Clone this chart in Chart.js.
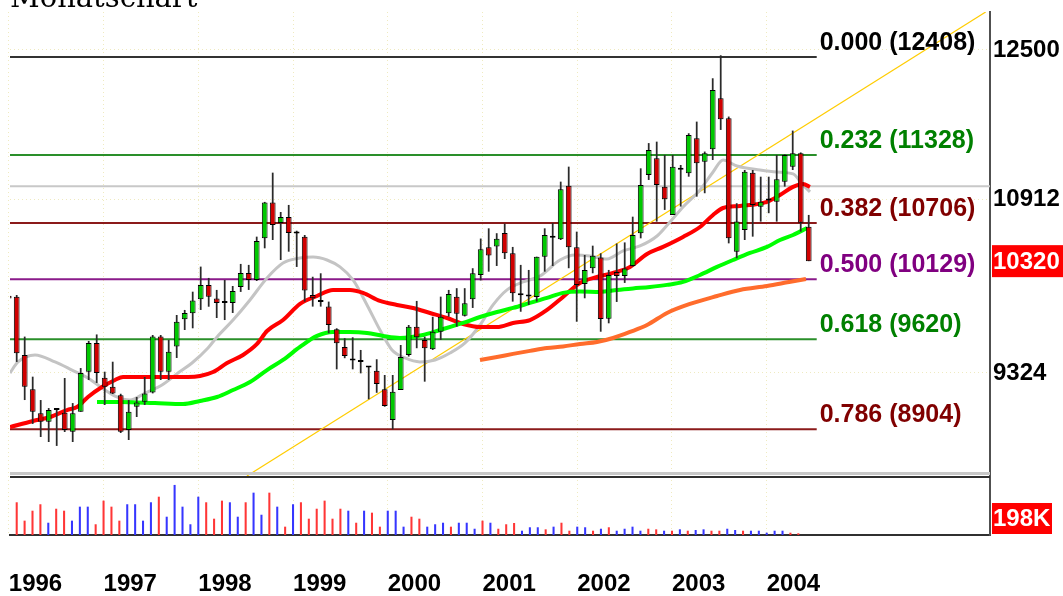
<!DOCTYPE html>
<html>
<head>
<meta charset="utf-8">
<script src="https://cdn.jsdelivr.net/npm/chart.js@4.4.1/dist/chart.umd.min.js"></script>
<style>
  html, body { margin: 0; padding: 0; background: #fff; }
</style>
</head>
<body>
<canvas id="chart" width="1063" height="596"></canvas>
<script>
// monthly candles, index 0 = Jan 1996
const opens = [
  10000, 9993, 9478, 9187, 8989, 8921, 9020, 8994, 8840, 9002,
  9335, 9582, 9284, 9209, 9137, 8854, 9043, 9084, 9160, 9637,
  9335, 9550, 9789, 9844, 9969, 10100, 9977, 9939, 9936, 10081,
  10210, 10145, 10536, 10883, 10684, 10742, 10582, 10552, 10008, 9950,
  9903, 9701, 9547, 9431, 9424, 9370, 9343, 9187, 8935, 9181,
  9478, 9724, 9608, 9527, 9680, 9844, 9993, 9821, 9969, 10191,
  10451, 10457, 10587, 10394, 10010, 9995, 9990, 10362, 10549, 10527,
  11052, 10451, 10109, 10254, 10355, 9795, 10219, 10182, 10275, 10584,
  11160, 11330, 11042, 10762, 11220, 11177, 11538, 11295, 11423, 11964,
  11749, 10409, 10616, 11183, 10843, 10904, 10892, 11092, 11244, 11382, 10648
]
const highs = [
  10010, 10008, 9637, 9293, 9098, 9032, 9032, 9282, 9073, 9366,
  9599, 9656, 9335, 9420, 9150, 9098, 9123, 9290, 9651, 9651,
  9608, 9828, 9873, 10038, 10269, 10164, 10054, 10145, 10090, 10294,
  10285, 10552, 10890, 11183, 10791, 10860, 10609, 10568, 10175, 10207,
  9948, 9710, 9623, 9631, 9521, 9378, 9441, 9307, 9307, 9564,
  9739, 9954, 9637, 9812, 9993, 10054, 10070, 10070, 10254, 10534,
  10632, 10585, 10677, 10454, 10285, 10238, 10362, 10632, 10684, 11092,
  11244, 10600, 10378, 10466, 10394, 10238, 10487, 10497, 10745, 11227,
  11487, 11502, 11364, 11364, 11261, 11590, 11713, 11399, 12183, 12440,
  11767, 10877, 11210, 11210, 11142, 11142, 11364, 11370, 11618, 11390, 10762
]
const lows = [
  9960, 9418, 9098, 8903, 8798, 8758, 8727, 8838, 8758, 9002,
  9265, 9240, 9057, 9148, 8830, 8774, 8959, 9057, 9153, 9265,
  9265, 9452, 9695, 9710, 9873, 9902, 9801, 9783, 9846, 10036,
  10054, 10136, 10441, 10520, 10331, 10409, 10266, 9948, 9903, 9903,
  9666, 9355, 9450, 9355, 9321, 9104, 9158, 9043, 8860, 9181,
  9464, 9536, 9251, 9521, 9608, 9812, 9724, 9815, 9891, 10141,
  10222, 10275, 10340, 9948, 9857, 9918, 9948, 10222, 10275, 10520,
  10254, 9768, 9978, 10207, 9680, 9754, 9945, 10118, 10269, 10536,
  11109, 10697, 10811, 10762, 10844, 11142, 10942, 10976, 11312, 11625,
  10488, 10347, 10520, 10552, 10697, 10779, 10697, 11042, 11210, 10600, 10320
]
const closes = [
  9975, 9493, 9209, 9002, 8921, 9016, 9016, 8854, 8989, 9324,
  9582, 9324, 9209, 9153, 8840, 9002, 9077, 9153, 9637, 9335,
  9506, 9768, 9846, 9958, 10100, 9993, 9936, 9936, 10045, 10210,
  10145, 10510, 10883, 10665, 10742, 10587, 10592, 10048, 9978, 9945,
  9739, 9579, 9469, 9439, 9418, 9375, 9231, 9049, 9167, 9461,
  9724, 9632, 9536, 9680, 9812, 10018, 9838, 9933, 10207, 10432,
  10374, 10532, 10394, 10024, 10005, 9999, 10362, 10568, 10542, 11016,
  10451, 10100, 10238, 10371, 9792, 10191, 10182, 10252, 10568, 11059,
  11416, 11059, 10916, 11244, 11212, 11572, 11278, 11382, 12054, 11738,
  10536, 10697, 11193, 10860, 10892, 10914, 11116, 11364, 11382, 10687, 10320
]
// volume in thousands
const volumes = [
  null, 381, 167, 283, 358, 143, 306, 283, 167, 330, 330,
  125, 400, 330, 167, 358, 358, 167, 381, 446, 213,
  583, 330, 125, 446, 381, 190, 400, 381, 213, 381,
  493, 236, 493, 330, 97, 358, 381, 190, 306, 400,
  190, 306, 283, 143, 283, 260, 97, 283, 283, 97,
  213, 190, 97, 125, 143, 97, 143, 143, 73, 167,
  143, 73, 125, 140, 50, 90, 90, 66, 97, 143,
  50, 97, 90, 50, 73, 90, 50, 73, 97, 50,
  73, 66, 50, 50, 66, 50, 58, 66, 50, 50,
  73, 58, 50, 50, 50, 27, 50, 50, 27, 20
]

const yearLabels = ['1996', '1997', '1998', '1999', '2000', '2001', '2002', '2003', '2004']
const priceTicks = [9324, 10912, 12500]
const lastPrice = 10320
const volumeMarker = 198

// fibonacci retracement
const fibRatios = ['0.000', '0.232', '0.382', '0.500', '0.618', '0.786']
const fibLabelValues = [12408, 11328, 10706, 10129, 9620, 8904]
const fibLevels = [12421, 11364, 10684, 10151, 9614, 8860]
const fibColors = ['#000000', '#008000', '#800000', '#800080', '#008000', '#800000']
const fibLineColors = ['#333333', '#2a8f2a', '#8b1a1a', '#8a1a8a', '#2a8f2a', '#8b1a1a']
const grayLevel = 11045

// trend line
const trendX = [29.78, 122.12]
const trendY = [8492, 12938]

// moving averages
const maGrayX = [0.16, 1.16, 3.29, 5.79, 7.91, 9.91, 11.66, 13.29, 15.16, 17.04, 19.16, 21.16, 22.91, 24.91, 26.04, 28.04, 30.16, 32.29, 34.29, 36.41, 38.04, 39.79, 41.41, 43.04, 44.79, 46.41, 47.91, 49.54, 51.41, 53.29, 55.16, 57.04, 58.91, 60.54, 62.29, 64.29, 66.41, 68.91, 70.79, 72.66, 74.79, 76.79, 78.91, 81.04, 82.66, 84.29, 86.41, 88.04, 89.29, 91.04, 93.91, 96.04, 98.04, 99.29, 100.16]
const maGrayY = [9324, 9418, 9478, 9418, 9349, 9282, 9198, 9131, 9098, 9156, 9223, 9324, 9409, 9538, 9634, 9783, 9963, 10164, 10303, 10350, 10359, 10331, 10266, 10145, 9918, 9695, 9521, 9452, 9418, 9435, 9495, 9582, 9739, 9918, 10054, 10127, 10182, 10331, 10378, 10368, 10340, 10416, 10463, 10558, 10694, 10840, 11009, 11190, 11312, 11251, 11210, 11190, 11170, 11059, 10989]
const maRedX = [0.16, 3.04, 5.16, 7.29, 8.54, 9.91, 11.66, 13.29, 14.29, 17.66, 22.41, 23.91, 25.54, 27.29, 29.29, 31.04, 32.29, 34.29, 36.41, 38.54, 40.54, 42.66, 44.29, 46.41, 48.54, 50.54, 52.66, 54.79, 56.79, 58.91, 61.04, 63.04, 65.16, 67.29, 69.29, 71.41, 73.54, 75.54, 77.66, 79.79, 81.79, 84.29, 86.41, 88.04, 89.29, 91.41, 94.79, 96.41, 98.04, 99.29, 100.16]
const maRedY = [8878, 8927, 8959, 9016, 9040, 9123, 9206, 9265, 9290, 9290, 9290, 9298, 9332, 9409, 9478, 9573, 9686, 9783, 9927, 9999, 10054, 10054, 10027, 9954, 9918, 9891, 9846, 9801, 9748, 9721, 9721, 9757, 9783, 9873, 9990, 10118, 10173, 10210, 10266, 10387, 10454, 10549, 10645, 10762, 10830, 10850, 10890, 10959, 11039, 11069, 11039]
const maGreenX = [11.04, 13.91, 18.29, 21.79, 23.91, 26.04, 28.04, 30.16, 32.29, 34.29, 36.41, 38.54, 40.54, 42.66, 44.79, 46.79, 48.91, 51.79, 53.91, 56.79, 58.91, 61.04, 63.04, 65.16, 67.29, 69.29, 71.41, 73.91, 76.04, 78.04, 80.16, 82.29, 84.29, 86.41, 88.54, 90.54, 92.66, 94.79, 96.41, 98.04, 99.79]
const maGreenY = [9082, 9082, 9073, 9065, 9090, 9123, 9181, 9248, 9349, 9435, 9547, 9643, 9678, 9678, 9669, 9643, 9625, 9651, 9695, 9757, 9810, 9855, 9891, 9936, 9981, 10027, 10040, 10036, 10054, 10068, 10081, 10100, 10127, 10191, 10266, 10331, 10397, 10454, 10520, 10568, 10635]
const maOrangeX = [58.91, 61.04, 63.04, 65.16, 67.29, 69.29, 71.41, 73.54, 75.54, 77.66, 79.79, 82.29, 85.16, 88.54, 91.41, 94.79, 97.54, 99.66]
const maOrangeY = [9435, 9461, 9487, 9513, 9538, 9551, 9573, 9590, 9625, 9678, 9739, 9846, 9927, 9999, 10054, 10090, 10127, 10155]

const boldFont = (size) => ({ family: 'Liberation Sans', size: size, weight: 'bold' })
const zip = (xs, ys) => xs.map((x, k) => ({ x: x, y: ys[k] }))

const fibStart = 0.16
const fibEnd = 101
const priceMinIdx = 0.1625
const priceMaxIdx = 122.66

function maLine(xs, ys, color, width) {
  return {
    type: 'line', xAxisID: 'x', yAxisID: 'y', order: 5,
    data: zip(xs, ys), borderColor: color, borderWidth: width,
    pointRadius: 0, cubicInterpolationMode: 'monotone', fill: false
  }
}

function hLine(level, color, width, from, to) {
  return {
    type: 'line', xAxisID: 'x', yAxisID: 'y', order: 10,
    data: [{ x: from, y: level }, { x: to, y: level }],
    borderColor: color, borderWidth: width, pointRadius: 0, fill: false
  }
}

// keep the layout from reserving room for tick labels at the edges
function noEdgePadding(s) {
  s.paddingLeft = 0
  s.paddingRight = 0
  s.paddingTop = 0
  s.paddingBottom = 0
}

const up = opens.map((o, i) => closes[i] >= o)

const datasets = []
fibLevels.forEach((lvl, k) => datasets.push(hLine(lvl, fibLineColors[k], 2, fibStart, fibEnd)))
datasets.push(hLine(grayLevel, '#c8c8c8', 2, fibStart, priceMaxIdx))
datasets.push({
  type: 'line', xAxisID: 'x', yAxisID: 'y', order: 9,
  data: zip(trendX, trendY), borderColor: '#ffcc00', borderWidth: 1.2, pointRadius: 0, fill: false
})
datasets.push(maLine(maOrangeX, maOrangeY, '#ff6c2c', 4))
datasets.push(maLine(maGreenX, maGreenY, '#00ff00', 4))
datasets.push(maLine(maRedX, maRedY, '#ff0000', 4))
datasets.push(maLine(maGrayX, maGrayY, '#c4c4c4', 3))
// wicks
datasets.push({
  type: 'bar', xAxisID: 'x', yAxisID: 'y', order: 2, grouped: false,
  data: lows.map((l, i) => ({ x: i, y: [l, highs[i]] })),
  backgroundColor: '#2a2a2a', categoryPercentage: 1, barPercentage: 0.22,
  inflateAmount: 0, borderWidth: 0
})
// bodies
datasets.push({
  type: 'bar', xAxisID: 'x', yAxisID: 'y', order: 1, grouped: false,
  data: opens.map((o, i) => ({ x: i, y: [o, closes[i]] })),
  backgroundColor: up.map(u => u ? '#00c800' : '#d00000'),
  borderColor: '#000000', borderWidth: 1, borderSkipped: false,
  categoryPercentage: 1, barPercentage: 0.72, minBarLength: 2, inflateAmount: 0
})
// volume
datasets.push({
  type: 'bar', xAxisID: 'xv', yAxisID: 'yv', order: 1, grouped: false,
  data: volumes.map((v, i) => ({ x: i, y: v })),
  backgroundColor: up.map(u => u ? '#3636ff' : '#ff3636'),
  categoryPercentage: 1, barPercentage: 0.26, inflateAmount: 0, borderWidth: 0
})

const decor = {
  id: 'decor',
  beforeDraw(chart) {
    const ctx = chart.ctx
    ctx.save()
    ctx.fillStyle = '#ffffff'
    ctx.fillRect(0, 0, chart.width, chart.height)
    ctx.restore()
  },
  afterDraw(chart) {
    const ctx = chart.ctx
    const x = chart.scales.x
    const y = chart.scales.y
    const yv = chart.scales.yv
    const area = chart.chartArea
    ctx.save()

    // title, cut by the top edge
    ctx.fillStyle = '#000'
    ctx.font = '29px "DejaVu Serif"'
    ctx.textBaseline = 'alphabetic'
    ctx.textAlign = 'left'
    ctx.fillText('Monatschart', 10, 7)

    // panel separator
    ctx.fillStyle = '#c8c8c8'
    ctx.fillRect(area.left, y.bottom - 4, area.right - area.left, 3)
    ctx.fillStyle = '#303030'
    ctx.fillRect(area.left, y.bottom, area.right - area.left, 2)

    // fibonacci labels
    ctx.font = 'bold 25px "Liberation Sans"'
    const lx = x.getPixelForValue(fibEnd) + 3
    fibLevels.forEach((lvl, k) => {
      ctx.fillStyle = fibColors[k]
      ctx.fillText(fibRatios[k] + ' (' + fibLabelValues[k] + ')', lx, y.getPixelForValue(lvl) - 7)
    })

    // last price and volume markers
    ctx.font = 'bold 24px "Liberation Sans"'
    ctx.textBaseline = 'middle'
    const py = y.getPixelForValue(lastPrice)
    ctx.fillStyle = '#ff0000'
    ctx.fillRect(area.right + 2, py - 16, chart.width - area.right - 2, 32)
    ctx.fillStyle = '#ffffff'
    ctx.fillText(String(lastPrice), area.right + 3, py + 1)

    const vy = yv.getPixelForValue(volumeMarker)
    ctx.fillStyle = '#ff0000'
    ctx.fillRect(area.right + 2, vy - 15, 60, 31)
    ctx.fillStyle = '#ffffff'
    ctx.fillText(volumeMarker + 'K', area.right + 3, vy + 1)
    ctx.restore()
  }
}

new Chart(document.getElementById('chart'), {
  type: 'bar',
  data: { datasets: datasets },
  plugins: [decor],
  options: {
    responsive: false,
    animation: false,
    events: [],
    layout: { padding: { left: 10, top: 12, right: 0, bottom: 0 } },
    plugins: { legend: { display: false }, tooltip: { enabled: false } },
    scales: {
      x: {
        type: 'linear', display: false, offset: false,
        min: priceMinIdx, max: priceMaxIdx, bounds: 'data',
        grid: { offset: false }
      },
      xv: {
        type: 'linear', position: 'bottom', offset: false, min: 0.15, max: 124.28, bounds: 'data',
        afterBuildTicks: (s) => { s.ticks = yearLabels.map((_, k) => ({ value: k * 12 })) },
        afterFit: (s) => { s.height = 61; noEdgePadding(s) },
        ticks: {
          align: 'start', padding: 35, color: '#000', font: boldFont(24),
          maxRotation: 0, autoSkip: false,
          callback: (v) => yearLabels[Math.round(v / 12)]
        },
        grid: { color: '#efeac0', drawTicks: false, offset: false },
        border: { display: true, color: '#303030', width: 2, dash: [1, 3] }
      },
      y: {
        type: 'logarithmic', position: 'right', stack: 'panels', stackWeight: 464,
        min: 8492, max: 12938, bounds: 'data',
        afterBuildTicks: (s) => { s.ticks = priceTicks.map(v => ({ value: v })) },
        afterFit: (s) => { s.width = 73; noEdgePadding(s) },
        ticks: { padding: 3, color: '#000', font: boldFont(24), callback: (v) => String(v) },
        grid: { color: '#efeac0', drawTicks: false },
        border: { display: true, color: '#505050', width: 2, dash: [1, 3] }
      },
      yv: {
        type: 'linear', position: 'right', stack: 'panels', stackWeight: 59,
        min: 0, max: 687, bounds: 'data',
        afterFit: (s) => { s.width = 73; noEdgePadding(s) },
        ticks: { display: false },
        grid: { display: false, drawTicks: false },
        border: { display: true, color: '#505050', width: 2 }
      }
    }
  }
})
</script>
</body>
</html>
